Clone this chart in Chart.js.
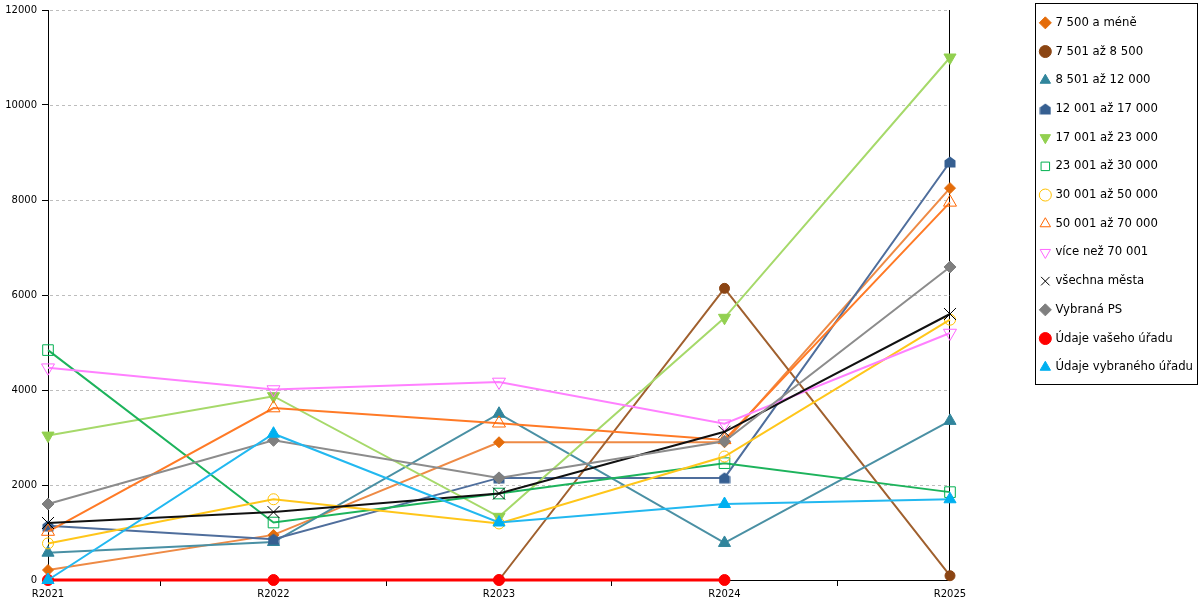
<!DOCTYPE html>
<html>
<head>
<meta charset="utf-8">
<script src="https://cdn.jsdelivr.net/npm/chart.js@4.4.1/dist/chart.umd.min.js"></script>
<style>
  html, body { margin: 0; padding: 0; background: #fff; }
  #wrap { width: 1200px; height: 600px; }
</style>
</head>
<body>
<div id="wrap"><canvas id="c" width="1200" height="600"></canvas></div>
<script>
const categories = ['R2021', 'R2022', 'R2023', 'R2024', 'R2025'];
const yTicks = [0, 2000, 4000, 6000, 8000, 10000, 12000];

const seriesNames = [
  '7 500 a méně', '7 501 až 8 500', '8 501 až 12 000', '12 001 až 17 000',
  '17 001 až 23 000', '23 001 až 30 000', '30 001 až 50 000', '50 001 až 70 000',
  'více než 70 001', 'všechna města', 'Vybraná PS', 'Údaje vašeho úřadu', 'Údaje vybraného úřadu'
];

const s7500    = [210, 950, 2900, 2900, 8250];
const s8500    = [null, null, 0, 6140, 90];
const s12000   = [575, 800, 3500, 780, 3350];
const s17000   = [1140, 860, 2150, 2150, 8800];
const s23000   = [3040, 3870, 1330, 5520, 11000];
const s30000   = [4840, 1210, 1820, 2460, 1850];
const s50000   = [770, 1700, 1190, 2600, 5480];
const s70000   = [1020, 3620, 3300, 2950, 7950];
const sOver    = [4470, 4010, 4170, 3290, 5200];
const sAll     = [1200, 1430, 1820, 3120, 5600];
const sPS      = [1600, 2940, 2150, 2920, 6590];
const sYours   = [0, 0, 0, 0, null];
const sSelect  = [0, 3080, 1210, 1600, 1700];

const seriesValues = [s7500, s8500, s12000, s17000, s23000, s30000, s50000, s70000, sOver, sAll, sPS, sYours, sSelect];

function makeHouse(color) {
  const cv = document.createElement('canvas');
  cv.width = 12; cv.height = 12;
  const g = cv.getContext('2d');
  g.fillStyle = color;
  g.beginPath();
  g.moveTo(6, 0.5);
  g.lineTo(11.5, 4.5);
  g.lineTo(11.5, 11.5);
  g.lineTo(0.5, 11.5);
  g.lineTo(0.5, 4.5);
  g.closePath();
  g.fill();
  return cv;
}

const T = 'rgba(0,0,0,0)';
const styles = [
  { line: '#EE8A45', mark: '#E46C0A', fill: '#E46C0A', ps: 'rectRot', r: 5.5, rot: 0 },
  { line: '#A0602E', mark: '#8B4513', fill: '#8B4513', ps: 'circle', r: 5, rot: 0 },
  { line: '#4A90A4', mark: '#31859C', fill: '#31859C', ps: 'triangle', r: 7, rot: 0 },
  { line: '#4F6E9C', mark: '#365F91', fill: '#365F91', ps: 'house', r: 6, rot: 0 },
  { line: '#A6D96A', mark: '#92D050', fill: '#92D050', ps: 'triangle', r: 7, rot: 180 },
  { line: '#1DB35C', mark: '#00B050', fill: T, ps: 'rect', r: 7.5, rot: 0 },
  { line: '#FFC61A', mark: '#FFC000', fill: T, ps: 'circle', r: 5.5, rot: 0 },
  { line: '#FF7A26', mark: '#FF6600', fill: T, ps: 'triangle', r: 7.5, rot: 0 },
  { line: '#FF80FF', mark: '#FF66FF', fill: T, ps: 'triangle', r: 7.5, rot: 180 },
  { line: '#111111', mark: '#000000', fill: T, ps: 'crossRot', r: 8.5, rot: 0 },
  { line: '#8C8C8C', mark: '#7F7F7F', fill: '#7F7F7F', ps: 'rectRot', r: 6, rot: 0 },
  { line: '#FF0000', mark: '#FF0000', fill: '#FF0000', ps: 'circle', r: 5.5, rot: 0 },
  { line: '#22B8F0', mark: '#00B0F0', fill: '#00B0F0', ps: 'triangle', r: 7, rot: 0 }
];

const n = seriesNames.length;
const datasets = seriesNames.map((name, i) => {
  const st = styles[i];
  return {
    label: name,
    data: seriesValues[i],
    borderColor: st.line,
    backgroundColor: st.fill,
    borderWidth: i === 11 ? 3 : 2,
    tension: 0,
    pointStyle: st.ps === 'house' ? makeHouse(st.mark) : st.ps,
    pointRadius: st.r,
    pointRotation: st.rot,
    pointBorderColor: st.mark,
    pointBackgroundColor: st.fill,
    pointBorderWidth: 1,
    order: n - i,
    clip: false,
    spanGaps: false
  };
});

const PAD_RIGHT = -3;

// dashed horizontal grid lines drawn through the y scale
const dashedGrid = {
  id: 'dashedGrid',
  beforeDatasetsDraw(chart) {
    const y = chart.scales.y;
    const a = chart.chartArea;
    const ctx = chart.ctx;
    ctx.save();
    ctx.strokeStyle = '#bdbdbd';
    ctx.lineWidth = 1;
    ctx.setLineDash([3, 3]);
    yTicks.forEach(v => {
      if (v === 0) return;
      const py = Math.round(y.getPixelForValue(v)) + 0.5;
      ctx.beginPath();
      ctx.moveTo(a.left + 2, py);
      ctx.lineTo(a.right, py);
      ctx.stroke();
    });
    ctx.restore();
  }
};

const legendBorder = {
  id: 'legendBorder',
  afterDraw(chart) {
    const lg = chart.legend;
    if (!lg || !lg.legendHitBoxes || !lg.legendHitBoxes.length) return;
    const hb = lg.legendHitBoxes;
    const first = hb[0], last = hb[hb.length - 1];
    const x0 = Math.round(first.left - 6) + 0.5;
    const x1 = Math.min(chart.width - 3, Math.round(lg.right - 0)) + 0.5;
    const y0 = Math.round(first.top - 14) + 0.5;
    const y1 = Math.round(last.top + last.height + 11) + 0.5;
    const ctx = chart.ctx;
    ctx.save();
    ctx.strokeStyle = '#000';
    ctx.lineWidth = 1;
    ctx.strokeRect(x0, y0, x1 - x0, y1 - y0);
    ctx.restore();
  }
};

Chart.defaults.font.family = '"DejaVu Sans", Verdana, sans-serif';
Chart.defaults.font.size = 10;
Chart.defaults.color = '#000';

new Chart(document.getElementById('c'), {
  type: 'line',
  data: { labels: categories, datasets },
  plugins: [dashedGrid, legendBorder],
  options: {
    responsive: false,
    animation: false,
    devicePixelRatio: 1,
    layout: { padding: { left: 0, top: 0, right: PAD_RIGHT, bottom: 0 } },
    plugins: {
      tooltip: { enabled: false },
      legend: {
        position: 'right',
        align: 'start',
        labels: {
          usePointStyle: true,
          boxWidth: 8.5,
          boxHeight: 8.5,
          padding: 17.0,
          font: { size: 11.7 },
          color: '#000',
          sort: (a, b) => a.datasetIndex - b.datasetIndex
        }
      }
    },
    scales: {
      x: {
        type: 'category',
        offset: false,
        grid: { display: true, drawOnChartArea: false, drawTicks: true, offset: true, tickLength: 6, tickColor: '#000' },
        border: { display: true, color: '#000', width: 1 },
        ticks: { padding: 2, maxRotation: 0, autoSkip: false, font: { size: 10 } },
        afterFit(s) { s.height = 20; }
      },
      y: {
        type: 'linear',
        position: 'left',
        min: 0,
        max: 12000,
        afterBuildTicks(s) { s.ticks = yTicks.map(v => ({ value: v })); },
        grid: { display: true, drawOnChartArea: false, drawTicks: true, tickLength: 6, tickColor: '#000' },
        border: { display: true, color: '#000', width: 1 },
        ticks: { padding: 5, font: { size: 10 }, callback: v => String(v) },
        afterFit(s) { s.width = 48; s.paddingTop = 10; }
      },
      y2: {
        type: 'linear',
        position: 'right',
        display: true,
        grid: { display: false, drawTicks: false },
        ticks: { display: false },
        border: { display: true, color: '#000', width: 1 },
        afterFit(s) { s.width = Math.max(0, s.chart.width - PAD_RIGHT - s.chart.legend.width - 950); }
      }
    }
  }
});
</script>
</body>
</html>
